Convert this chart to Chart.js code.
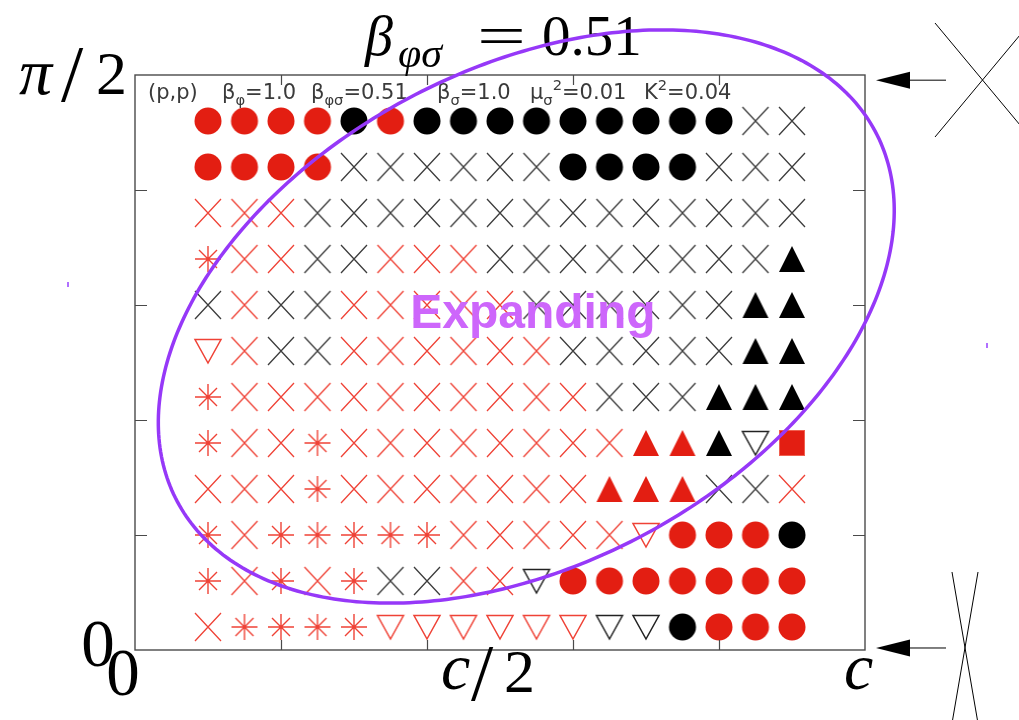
<!DOCTYPE html>
<html>
<head>
<meta charset="utf-8">
<script src="https://cdn.jsdelivr.net/npm/chart.js@4.4.1/dist/chart.umd.min.js"></script>
<style>
  html, body { margin: 0; padding: 0; background: #fff; }
  #wrap { width: 1019px; height: 720px; }
</style>
</head>
<body>
<div id="wrap"><canvas id="chart" width="1019" height="720"></canvas></div>
<script>
// grid positions (x in units of c, y in units of pi/2)
const xVals = [0.10, 0.15, 0.20, 0.25, 0.30, 0.35, 0.40, 0.45, 0.50, 0.55, 0.60, 0.65, 0.70, 0.75, 0.80, 0.85, 0.90]
const yVals = [0.92, 0.84, 0.76, 0.68, 0.60, 0.52, 0.44, 0.36, 0.28, 0.20, 0.12, 0.04]

// marker code per cell, rows top to bottom
// RO/KO red/black dot, RX/KX red/black cross, RS red star,
// RV/KV red/black open down-triangle, RA/KA red/black up-triangle, RQ red square
const row1  = ['RO','RO','RO','RO','KO','RO','KO','KO','KO','KO','KO','KO','KO','KO','KO','KX','KX']
const row2  = ['RO','RO','RO','RO','KX','KX','KX','KX','KX','KX','KO','KO','KO','KO','KX','KX','KX']
const row3  = ['RX','RX','RX','KX','KX','KX','KX','KX','KX','KX','KX','KX','KX','KX','KX','KX','KX']
const row4  = ['RS','RX','RX','KX','KX','RX','RX','RX','KX','KX','KX','KX','KX','KX','KX','KX','KA']
const row5  = ['KX','RX','KX','KX','RX','RX','RX','RX','RX','KX','KX','KX','KX','KX','KX','KA','KA']
const row6  = ['RV','RX','KX','KX','RX','RX','RX','RX','RX','RX','KX','KX','KX','KX','KX','KA','KA']
const row7  = ['RS','RX','RX','RX','RX','RX','RX','RX','RX','RX','RX','KX','KX','KX','KA','KA','KA']
const row8  = ['RS','RX','RX','RS','RX','RX','RX','RX','RX','RX','RX','RX','RA','RA','KA','KV','RQ']
const row9  = ['RX','RX','RX','RS','RX','RX','RX','RX','RX','RX','RX','RA','RA','RA','KX','KX','RX']
const row10 = ['RS','RX','RS','RS','RS','RS','RS','RX','RX','RX','RX','RX','RV','RO','RO','RO','KO']
const row11 = ['RS','RX','RS','RX','RS','KX','KX','RX','RX','KV','RO','RO','RO','RO','RO','RO','RO']
const row12 = ['RX','RS','RS','RS','RS','RV','RV','RV','RV','RV','RV','KV','KV','KO','RO','RO','RO']
const gridRows = [row1, row2, row3, row4, row5, row6, row7, row8, row9, row10, row11, row12]

const xTickMarks = [0.2, 0.4, 0.6, 0.8]
const yTickMarks = [0.2, 0.4, 0.6, 0.8]

const RED = '#e31e12'
const RED_LINE = '#ef4236'
const GREY_LINE = '#3c3c3c'

function mk(w, h, fn) {
  const c = document.createElement('canvas')
  c.width = w; c.height = h
  fn(c.getContext('2d'), w, h)
  return c
}
const dot = col => mk(30, 30, (g) => { g.fillStyle = col; g.beginPath(); g.arc(15, 15, 13.5, 0, Math.PI * 2); g.fill() })
const cross = col => mk(30, 32, (g) => {
  g.strokeStyle = col; g.lineWidth = 1.3
  g.beginPath(); g.moveTo(2, 2); g.lineTo(28, 30); g.moveTo(28, 2); g.lineTo(2, 30); g.stroke()
})
const star = col => mk(30, 30, (g) => {
  g.strokeStyle = col; g.lineWidth = 1.4
  g.beginPath()
  g.moveTo(15, 2); g.lineTo(15, 28); g.moveTo(2, 15); g.lineTo(28, 15)
  g.moveTo(6, 6); g.lineTo(24, 24); g.moveTo(24, 6); g.lineTo(6, 24)
  g.stroke()
})
const triDown = col => mk(30, 28, (g) => {
  g.strokeStyle = col; g.lineWidth = 1.5
  g.beginPath(); g.moveTo(2, 2.5); g.lineTo(28, 2.5); g.lineTo(15, 26); g.closePath(); g.stroke()
})
const triUp = col => mk(30, 28, (g) => {
  g.fillStyle = col
  g.beginPath(); g.moveTo(15, 1); g.lineTo(28, 27); g.lineTo(2, 27); g.closePath(); g.fill()
})
const square = col => mk(28, 28, (g) => {
  g.fillStyle = col; g.fillRect(1.5, 1.5, 25, 25)
  g.strokeStyle = '#f06050'; g.lineWidth = 1; g.strokeRect(1.5, 1.5, 25, 25)
})

const styles = {
  RO: dot(RED), KO: dot('#000'),
  RX: cross(RED_LINE), KX: cross(GREY_LINE),
  RS: star(RED_LINE),
  RV: triDown(RED_LINE), KV: triDown('#222'),
  RA: triUp(RED), KA: triUp('#000'),
  RQ: square(RED)
}

const datasets = Object.keys(styles).map(code => {
  const pts = []
  gridRows.forEach((row, r) => row.forEach((c, i) => { if (c === code) pts.push({ x: xVals[i], y: yVals[r] }) }))
  return { label: code, data: pts, pointStyle: styles[code], pointRadius: 14, showLine: false }
})

// purple annotation ellipse, in data units: centre + u cos t + v sin t
const ellipse = { cx: 0.536, cy: 0.580, ux: 0.478, uy: 0.322, vx: 0.160, vy: -0.3805 }

function rich(g, x, y, parts, size, family, color) {
  g.fillStyle = color
  g.textBaseline = 'alphabetic'
  g.textAlign = 'left'
  for (const [t, kind, it] of parts) {
    let s = size, dy = 0
    if (kind === 'sub') { s = size * 0.7; dy = size * 0.28 }
    if (kind === 'sup') { s = size * 0.7; dy = -size * 0.42 }
    g.font = (it ? 'italic ' : '') + s + 'px ' + family
    g.fillText(t, x, y + dy)
    x += g.measureText(t).width
  }
  return x
}

const decor = {
  id: 'decor',
  afterDatasetsDraw(chart) {
    const g = chart.ctx
    const a = chart.chartArea
    const xs = chart.scales.x, ys = chart.scales.y
    g.save()

    // frame + inward ticks
    g.strokeStyle = '#4a4a4a'; g.lineWidth = 1.4
    g.strokeRect(a.left, a.top, a.right - a.left, a.bottom - a.top)
    g.lineWidth = 1.2
    g.beginPath()
    xTickMarks.forEach(v => {
      const px = Math.round(xs.getPixelForValue(v)) + 0.5
      g.moveTo(px, a.bottom); g.lineTo(px, a.bottom - 10)
      g.moveTo(px, a.top); g.lineTo(px, a.top + 10)
    })
    yTickMarks.forEach(v => {
      const py = Math.round(ys.getPixelForValue(v)) + 0.5
      g.moveTo(a.left, py); g.lineTo(a.left + 12, py)
      g.moveTo(a.right, py); g.lineTo(a.right - 12, py)
    })
    g.stroke()

    // axis labels
    const serif = '"Liberation Serif", "DejaVu Serif", serif'
    g.fillStyle = '#000'
    g.textBaseline = 'alphabetic'
    g.textAlign = 'center'
    g.font = '67px ' + serif
    g.fillText('0', xs.getPixelForValue(0) - 12, a.bottom + 45)
    g.fillText('0', a.left - 37, ys.getPixelForValue(0) + 16)
    // c/2
    const hx = xs.getPixelForValue(0.5)
    g.textAlign = 'left'
    g.font = 'italic 66px ' + serif
    g.fillText('c', hx - 59, a.bottom + 39)
    g.font = '80px ' + serif
    g.fillText('/', hx - 29, a.bottom + 50)
    g.font = '62px ' + serif
    g.fillText('2', hx + 4, a.bottom + 42)
    g.font = 'italic 66px ' + serif
    g.fillText('c', xs.getPixelForValue(1) - 21, a.bottom + 39)
    // pi/2
    const ty = ys.getPixelForValue(1)
    g.font = 'italic 66px ' + serif
    g.fillText('π', 19, ty + 19)
    g.font = '80px ' + serif
    g.fillText('/', 61, ty + 26)
    g.font = '62px ' + serif
    g.fillText('2', 96, ty + 19)

    // title
    g.font = 'italic 56px ' + serif
    g.fillText('β', 365, 55)
    g.font = 'italic 42px ' + serif
    g.fillText('φσ', 398, 67)
    g.save()
    g.translate(477, 55)
    g.scale(1.55, 1)
    g.font = '56px ' + serif
    g.fillText('=', 0, 0)
    g.restore()
    g.font = '57px ' + serif
    g.fillText('0.51', 542, 55)

    // parameter line inside plot
    const sans = '"DejaVu Sans", sans-serif'
    const tc = '#3a3a3a'
    rich(g, 148, 99, [['(p,p)', 'n']], 21, sans, tc)
    rich(g, 222, 99, [['β', 'n'], ['φ', 'sub'], ['=1.0', 'n']], 21, sans, tc)
    rich(g, 311, 99, [['β', 'n'], ['φσ', 'sub'], ['=0.51', 'n']], 21, sans, tc)
    rich(g, 437, 99, [['β', 'n'], ['σ', 'sub'], ['=1.0', 'n']], 21, sans, tc)
    rich(g, 530, 99, [['μ', 'n'], ['σ', 'sub'], ['2', 'sup'], ['=0.01', 'n']], 21, sans, tc)
    rich(g, 644, 99, [['K', 'n'], ['2', 'sup'], ['=0.04', 'n']], 21, sans, tc)

    // ellipse
    g.strokeStyle = '#9638f8'; g.lineWidth = 3.5
    g.beginPath()
    for (let k = 0; k <= 360; k++) {
      const t = k * Math.PI / 180
      const dx = ellipse.cx + ellipse.ux * Math.cos(t) + ellipse.vx * Math.sin(t)
      const dy = ellipse.cy + ellipse.uy * Math.cos(t) + ellipse.vy * Math.sin(t)
      const px = xs.getPixelForValue(dx), py = ys.getPixelForValue(dy)
      if (k === 0) g.moveTo(px, py); else g.lineTo(px, py)
    }
    g.closePath(); g.stroke()

    // label inside ellipse
    g.fillStyle = '#cd66fb'
    g.font = 'bold 48px "Liberation Sans", Arial, sans-serif'
    g.textAlign = 'center'
    g.fillText('Expanding', xs.getPixelForValue(0.545), ys.getPixelForValue(0.56))

    // tiny purple specks
    g.fillStyle = '#b070ff'
    g.fillRect(67, 282, 2, 5)
    g.fillRect(986, 343, 2, 5)

    // arrows and cross glyphs on the right
    g.strokeStyle = '#000'; g.fillStyle = '#000'; g.lineWidth = 1
    ;[0.991, 0.0035].forEach(v => {
      const py = ys.getPixelForValue(v)
      g.beginPath(); g.moveTo(946, py); g.lineTo(905, py); g.stroke()
      g.beginPath(); g.moveTo(876, py); g.lineTo(910, py - 8.5); g.lineTo(910, py + 8.5); g.closePath(); g.fill()
    })
    g.beginPath()
    g.moveTo(935, 23); g.lineTo(1030, 137)
    g.moveTo(935, 137); g.lineTo(1030, 23)
    g.moveTo(952, 572); g.lineTo(980, 735)
    g.moveTo(978, 572); g.lineTo(950, 735)
    g.stroke()

    g.restore()
  }
}

new Chart(document.getElementById('chart'), {
  type: 'scatter',
  data: { datasets },
  options: {
    responsive: false,
    animation: false,
    devicePixelRatio: 1,
    layout: { padding: { left: 135, right: 154, top: 75, bottom: 70 } },
    plugins: { legend: { display: false }, tooltip: { enabled: false }, title: { display: false } },
    elements: { point: { radius: 14, borderWidth: 0 } },
    scales: {
      x: { type: 'linear', min: 0, max: 1, display: false },
      y: { type: 'linear', min: 0, max: 1, display: false }
    },
    clip: false
  },
  plugins: [decor]
})
</script>
</body>
</html>
